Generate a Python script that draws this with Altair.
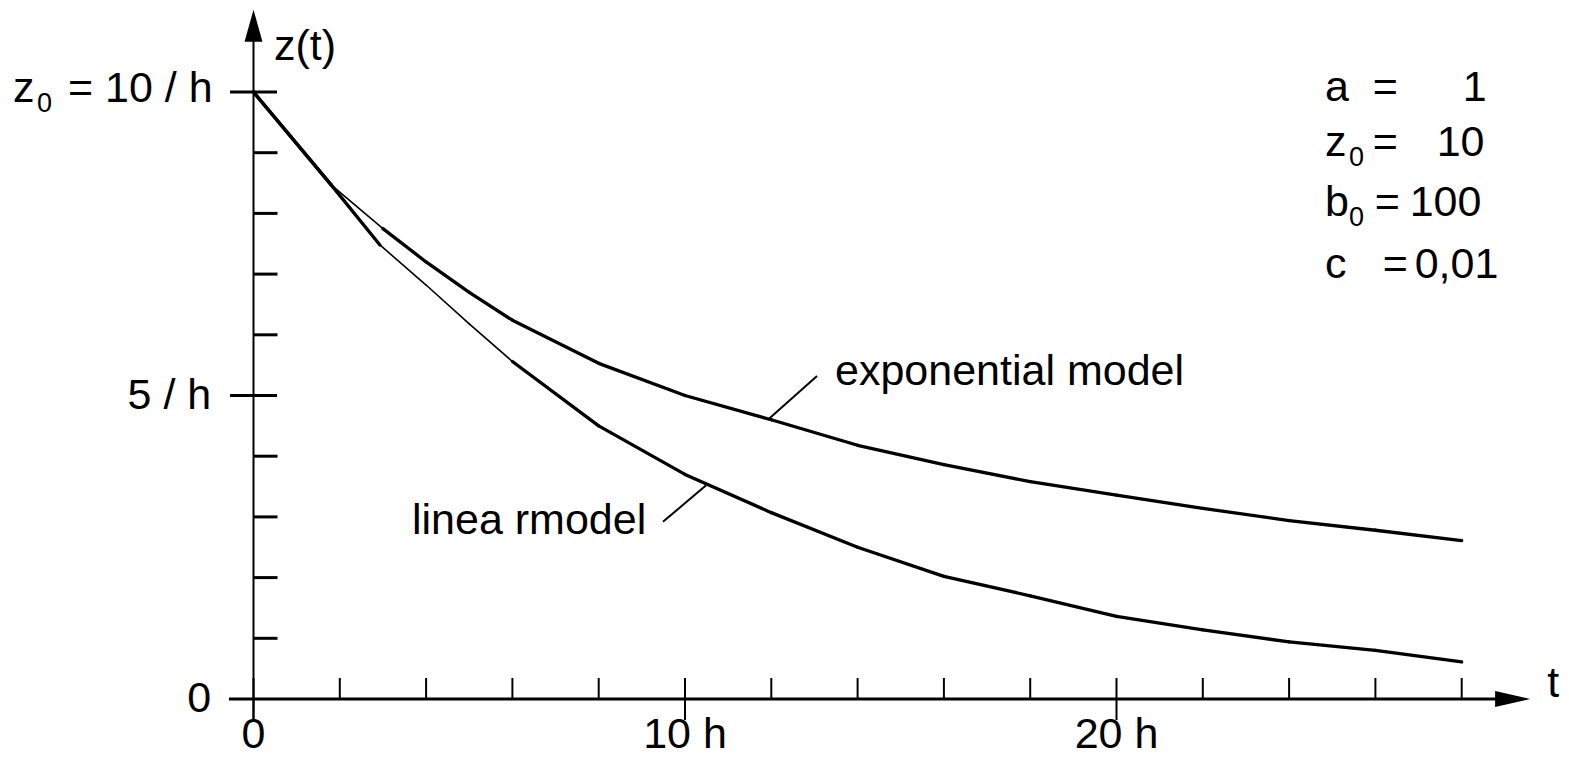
import altair as alt
import pandas as pd

# ---------------- data ----------------
T_EXP = [0, 1.8, 3, 4, 5, 6, 8, 10, 12, 14, 16, 18, 20, 22, 24, 26, 28]
Z_EXP = [10, 8.47, 7.75, 7.2, 6.7, 6.24, 5.53, 5.0, 4.6, 4.18, 3.86, 3.58, 3.36, 3.14, 2.94, 2.78, 2.61]
T_LIN = [0, 1.8, 2.93, 4, 5, 6, 8, 10, 12, 14, 16, 18, 20, 22, 24, 26, 28]
Z_LIN = [10, 8.47, 7.48, 6.82, 6.18, 5.56, 4.5, 3.7, 3.07, 2.5, 2.02, 1.7, 1.36, 1.14, 0.94, 0.8, 0.61]
EXP_THIN = (1.8, 3.0)   # part of the curve drawn with a thin pen
LIN_THIN = (2.93, 6.0)

X_MINOR = [2, 4, 6, 8, 12, 14, 16, 18, 22, 24, 26, 28]
X_MAJOR = [0, 10, 20]
X_LABELS = ["0", "10 h", "20 h"]
Y_MINOR = [1, 2, 3, 4, 6, 7, 8, 9]
Y_MAJOR = [5, 10]
Y_LABEL_VALUES = [0, 5]
Y_LABELS = ["0", "5 / h"]

PARAM_NAMES = ["a", "z", "b", "c"]
PARAM_SUBS = ["", "0", "0", ""]
PARAM_VALUES = ["1", "10", "100", "0,01"]

CURVE_NAMES = ["exponential model", "linea rmodel"]

# ---------------- layout (data coordinates of annotations) ----------------
W, H = 1553, 750
PX_T, PX_Z = 43.15, 60.7
XMIN = -245.5 / PX_T
XMAX = XMIN + W / PX_T
ZMAX = 691 / PX_Z
ZMIN = ZMAX - H / PX_Z

FONT = "Liberation Sans"
FS = 43
FS_SUB = 27

xs = alt.Scale(domain=[XMIN, XMAX], nice=False, zero=False)
ys = alt.Scale(domain=[ZMIN, ZMAX], nice=False, zero=False)


def X(f="t"):
    return alt.X(f"{f}:Q", scale=xs, axis=None)


def Y(f="z"):
    return alt.Y(f"{f}:Q", scale=ys, axis=None)


# curves as short segments so the pen width can vary
rows = []
for name, ts, zs, thin in [("exp", T_EXP, Z_EXP, EXP_THIN), ("lin", T_LIN, Z_LIN, LIN_THIN)]:
    for i in range(len(ts) - 1):
        w = 1.6 if (ts[i] >= thin[0] - 1e-9 and ts[i + 1] <= thin[1] + 1e-9) else 3.3
        for j in (i, i + 1):
            rows.append({"t": ts[j], "z": zs[j], "seg": f"{name}{i}", "w": w})
curves_df = pd.DataFrame(rows)

curves = alt.Chart(curves_df).mark_line(color="black", strokeCap="round", strokeJoin="round").encode(
    x=X(), y=Y(), detail="seg:N", strokeWidth=alt.StrokeWidth("w:Q", scale=None), order="t:Q"
)

# axes lines
axis_lines = alt.Chart(pd.DataFrame([
    {"t": -0.57, "t2": 29.2, "z": 0, "z2": 0, "w": 3},
    {"t": 0, "t2": 0, "z": -0.35, "z2": 10.85, "w": 2},
])).mark_rule(color="black").encode(
    x=X(), x2="t2:Q", y=Y(), y2="z2:Q", strokeWidth=alt.StrokeWidth("w:Q", scale=None)
)

arrow_right = alt.Chart(pd.DataFrame({"t": [29.18], "z": [0]})).mark_point(
    shape="M -1 -0.46 L 1 0 L -1 0.46 Z", size=1225, filled=True, color="black", opacity=1, strokeWidth=0
).encode(x=X(), y=Y())
arrow_up = alt.Chart(pd.DataFrame({"t": [0], "z": [11.09]})).mark_point(
    shape="M -0.56 1 L 0 -1 L 0.56 1 Z", size=1024, filled=True, color="black", opacity=1, strokeWidth=0
).encode(x=X(), y=Y())

# ticks
x_minor = alt.Chart(pd.DataFrame({"t": X_MINOR, "z": [0] * len(X_MINOR)})).mark_tick(
    orient="vertical", size=21, thickness=2, yOffset=-10.5, color="black", opacity=1
).encode(x=X(), y=Y())
x_major = alt.Chart(pd.DataFrame({"t": X_MAJOR, "z": [0] * len(X_MAJOR)})).mark_tick(
    orient="vertical", size=42, thickness=2, color="black", opacity=1
).encode(x=X(), y=Y())
y_minor = alt.Chart(pd.DataFrame({"t": [0] * len(Y_MINOR), "z": Y_MINOR})).mark_tick(
    orient="horizontal", size=24, thickness=3, xOffset=12, color="black", opacity=1
).encode(x=X(), y=Y())
y_major = alt.Chart(pd.DataFrame({"t": [0] * len(Y_MAJOR), "z": Y_MAJOR})).mark_tick(
    orient="horizontal", size=47, thickness=3, color="black", opacity=1
).encode(x=X(), y=Y())

# leader lines
leaders = alt.Chart(pd.DataFrame([
    {"t": 11.92, "z": 4.6, "t2": 13.06, "z2": 5.32},
    {"t": 10.49, "z": 3.52, "t2": 9.49, "z2": 2.92},
])).mark_rule(color="black", strokeWidth=2).encode(x=X(), y=Y(), x2="t2:Q", y2="z2:Q")

# text annotations
left_text = [
    {"text": "z(t)", "t": 0.475, "z": 10.527, "s": FS},
    {"text": "t", "t": 29.98, "z": 0.03, "s": FS},
    {"text": CURVE_NAMES[0], "t": 13.476, "z": 5.173, "s": FS},
    {"text": CURVE_NAMES[1], "t": 3.673, "z": 2.718, "s": FS},
    {"text": "z", "t": -5.573, "z": 9.835, "s": FS},
    {"text": "0", "t": -5.017, "z": 9.67, "s": FS_SUB},
    {"text": "= 10 / h", "t": -4.30, "z": 9.835, "s": FS},
]
param_rows_z = [9.852, 8.946, 7.957, 6.936]
eq_t = [25.937, 25.937, 25.983, 26.169]
val_t = [28.022, 27.419, 26.794, 26.910]
for i, name in enumerate(PARAM_NAMES):
    left_text.append({"text": name, "t": 24.832, "z": param_rows_z[i], "s": FS})
    if PARAM_SUBS[i]:
        left_text.append({"text": PARAM_SUBS[i], "t": 25.388, "z": param_rows_z[i] - 0.17, "s": FS_SUB})
    left_text.append({"text": "=", "t": eq_t[i], "z": param_rows_z[i], "s": FS})
    left_text.append({"text": PARAM_VALUES[i], "t": val_t[i], "z": param_rows_z[i], "s": FS})

txt_left = alt.Chart(pd.DataFrame(left_text)).mark_text(
    align="left", baseline="alphabetic", font=FONT, color="black"
).encode(x=X(), y=Y(), text="text:N", size=alt.Size("s:Q", scale=None))

y_lab_df = pd.DataFrame({"t": [-0.98] * len(Y_LABELS), "z": Y_LABEL_VALUES, "text": Y_LABELS})
txt_ylab = alt.Chart(y_lab_df).mark_text(
    align="right", baseline="middle", font=FONT, fontSize=FS, color="black"
).encode(x=X(), y=Y(), text="text:N")

x_lab_df = pd.DataFrame({"t": X_MAJOR, "z": [-0.81] * len(X_MAJOR), "text": X_LABELS})
txt_xlab = alt.Chart(x_lab_df).mark_text(
    align="center", baseline="alphabetic", font=FONT, fontSize=FS, color="black"
).encode(x=X(), y=Y(), text="text:N")

chart = alt.layer(
    curves, axis_lines, arrow_right, arrow_up, x_minor, x_major, y_minor, y_major,
    leaders, txt_left, txt_ylab, txt_xlab
).properties(
    width=W, height=H, padding=0, autosize="none", background="white"
).configure_view(stroke=None)

chart.save("out.html", embed_options={"renderer": "svg", "actions": False})
